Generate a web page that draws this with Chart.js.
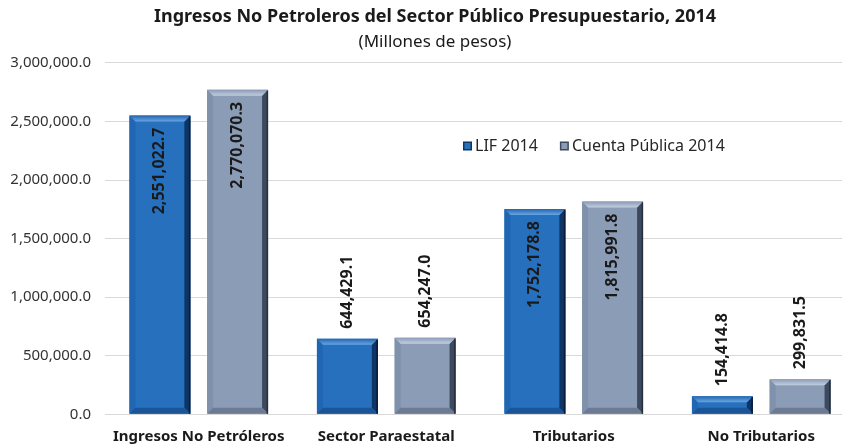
<!DOCTYPE html>
<html>
<head>
<meta charset="utf-8">
<script src="https://cdn.jsdelivr.net/npm/chart.js@4"></script>
<style>
  html, body { margin: 0; padding: 0; background: #ffffff; }
  #wrap { width: 842px; height: 447px; overflow: hidden; position: relative; }
</style>
</head>
<body>
<div id="wrap"><canvas id="c" width="870" height="447"></canvas></div>
<script>
const categories = ['Ingresos No Petróleros', 'Sector Paraestatal', 'Tributarios', 'No Tributarios'];
const seriesNames = ['LIF 2014', 'Cuenta Pública 2014'];
const lif2014 = [2551022.7, 644429.1, 1752178.8, 154414.8];
const cuentaPublica2014 = [2770070.3, 654247.0, 1815991.8, 299831.5];
const yMin = 0, yMax = 3000000, yStep = 500000;

const FONT = "'Noto Sans', 'DejaVu Sans', sans-serif";
Chart.defaults.font.family = FONT;

const palettes = [
  { main: '#2670be', left: '#2166b2', right: '#0e3566', edge: '#0a1d38', topOuter: '#2266b0', topInner: '#6aa5e2', bottom: '#1a5597' },
  { main: '#8b9cb6', left: '#8091ab', right: '#3d4a5e', edge: '#262f3d', topOuter: '#8a9bb5', topInner: '#c3cfe0', bottom: '#6c7b93' }
];

function fmt(v) {
  return v.toLocaleString('en-US', { minimumFractionDigits: 1, maximumFractionDigits: 1 });
}

const titleSpanPlugin = {
  id: 'titleSpan',
  afterLayout(chart) {
    chart.boxes.forEach(b => {
      if (b.fullSize && b.options && b.options.text !== undefined) {
        b.left = 0; b.right = chart.width; b.width = chart.width;
      }
    });
  }
};

const bevelPlugin = {
  id: 'bevel',
  afterDatasetsDraw(chart) {
    const ctx = chart.ctx;
    chart.data.datasets.forEach((ds, di) => {
      const meta = chart.getDatasetMeta(di);
      const p = palettes[di];
      meta.data.forEach(bar => {
        const w = bar.width;
        const l = bar.x - w / 2, r = bar.x + w / 2, t = bar.y, b = bar.base;
        const e = Math.min(6, (b - t) / 2);
        ctx.save();
        ctx.fillStyle = p.left;
        ctx.beginPath(); ctx.moveTo(l, t); ctx.lineTo(l + e, t + e); ctx.lineTo(l + e, b - e); ctx.lineTo(l, b); ctx.closePath(); ctx.fill();
        ctx.fillStyle = p.right;
        ctx.beginPath(); ctx.moveTo(r, t); ctx.lineTo(r, b); ctx.lineTo(r - e, b - e); ctx.lineTo(r - e, t + e); ctx.closePath(); ctx.fill();
        ctx.fillStyle = p.bottom;
        ctx.beginPath(); ctx.moveTo(l, b); ctx.lineTo(r, b); ctx.lineTo(r - e, b - e); ctx.lineTo(l + e, b - e); ctx.closePath(); ctx.fill();
        const g = ctx.createLinearGradient(0, t, 0, t + e);
        g.addColorStop(0, p.topOuter); g.addColorStop(1, p.topInner);
        ctx.fillStyle = g;
        ctx.beginPath(); ctx.moveTo(l, t); ctx.lineTo(r, t); ctx.lineTo(r - e, t + e); ctx.lineTo(l + e, t + e); ctx.closePath(); ctx.fill();
        ctx.fillStyle = p.edge;
        ctx.fillRect(r - 1.5, t + 1, 1.5, b - t - 1);
        ctx.restore();
      });
    });
  }
};

const labelPlugin = {
  id: 'valueLabels',
  afterDatasetsDraw(chart) {
    const ctx = chart.ctx;
    ctx.save();
    ctx.font = 'bold 16px ' + FONT;
    ctx.fillStyle = '#1a1a1a';
    ctx.textBaseline = 'middle';
    chart.data.datasets.forEach((ds, di) => {
      const meta = chart.getDatasetMeta(di);
      meta.data.forEach((bar, i) => {
        const txt = fmt(ds.data[i]);
        const tw = ctx.measureText(txt).width;
        const h = bar.base - bar.y;
        ctx.save();
        ctx.translate(bar.x, 0);
        ctx.rotate(-Math.PI / 2);
        if (h > tw + 40) {
          ctx.textAlign = 'right';
          ctx.fillText(txt, -(bar.y + 12), 0);
        } else {
          ctx.textAlign = 'left';
          ctx.fillText(txt, -(bar.y - 10), 0);
        }
        ctx.restore();
      });
    });
    ctx.restore();
  }
};

const legendPlugin = {
  id: 'customLegend',
  afterDraw(chart) {
    const ctx = chart.ctx;
    ctx.save();
    ctx.font = '16px ' + FONT;
    ctx.textBaseline = 'middle';
    ctx.textAlign = 'left';
    let x = 463;
    const y = 146;
    seriesNames.forEach((name, i) => {
      const p = palettes[i];
      ctx.fillStyle = p.right;
      ctx.fillRect(x, y - 4.5, 9, 9);
      ctx.fillStyle = p.main;
      ctx.fillRect(x + 1.5, y - 3, 6, 6);
      ctx.fillStyle = '#262626';
      ctx.fillText(name, x + 12, y);
      x += 12 + ctx.measureText(name).width + 22;
    });
    ctx.restore();
  }
};

new Chart(document.getElementById('c'), {
  type: 'bar',
  data: {
    labels: categories,
    datasets: [
      { label: seriesNames[0], data: lif2014, backgroundColor: palettes[0].main, borderWidth: 0,
        categoryPercentage: 0.829, barPercentage: 0.784 },
      { label: seriesNames[1], data: cuentaPublica2014, backgroundColor: palettes[1].main, borderWidth: 0,
        categoryPercentage: 0.829, barPercentage: 0.784 }
    ]
  },
  options: {
    responsive: false,
    animation: false,
    devicePixelRatio: 1,
    layout: { padding: { left: 0, right: 15, top: 0, bottom: 0 } },
    plugins: {
      legend: { display: false },
      tooltip: { enabled: false },
      title: {
        display: true,
        text: 'Ingresos No Petroleros del Sector Público Presupuestario, 2014',
        color: '#1a1a1a',
        font: { size: 18, weight: 'bold', family: FONT },
        padding: { top: 6.2, bottom: 0 }
      },
      subtitle: {
        display: true,
        text: '(Millones de pesos)',
        color: '#1a1a1a',
        font: { size: 17, weight: 'normal', family: FONT },
        padding: { top: 4, bottom: 10.7 }
      }
    },
    scales: {
      x: {
        grid: { display: false, drawTicks: false },
        border: { display: false },
        ticks: { color: '#1a1a1a', font: { size: 15, weight: 'bold' }, padding: 13, maxRotation: 0, autoSkip: false },
        afterFit(scale) { scale.height = 32.7; }
      },
      y: {
        min: yMin, max: yMax,
        grid: { color: '#d9d9d9', lineWidth: 1, drawTicks: false },
        border: { display: false },
        ticks: { stepSize: yStep, color: '#333333', font: { size: 15 }, padding: 14, callback: v => fmt(v) },
        afterFit(scale) { scale.width = 105; }
      }
    }
  },
  plugins: [titleSpanPlugin, bevelPlugin, labelPlugin, legendPlugin]
});
</script>
</body>
</html>
